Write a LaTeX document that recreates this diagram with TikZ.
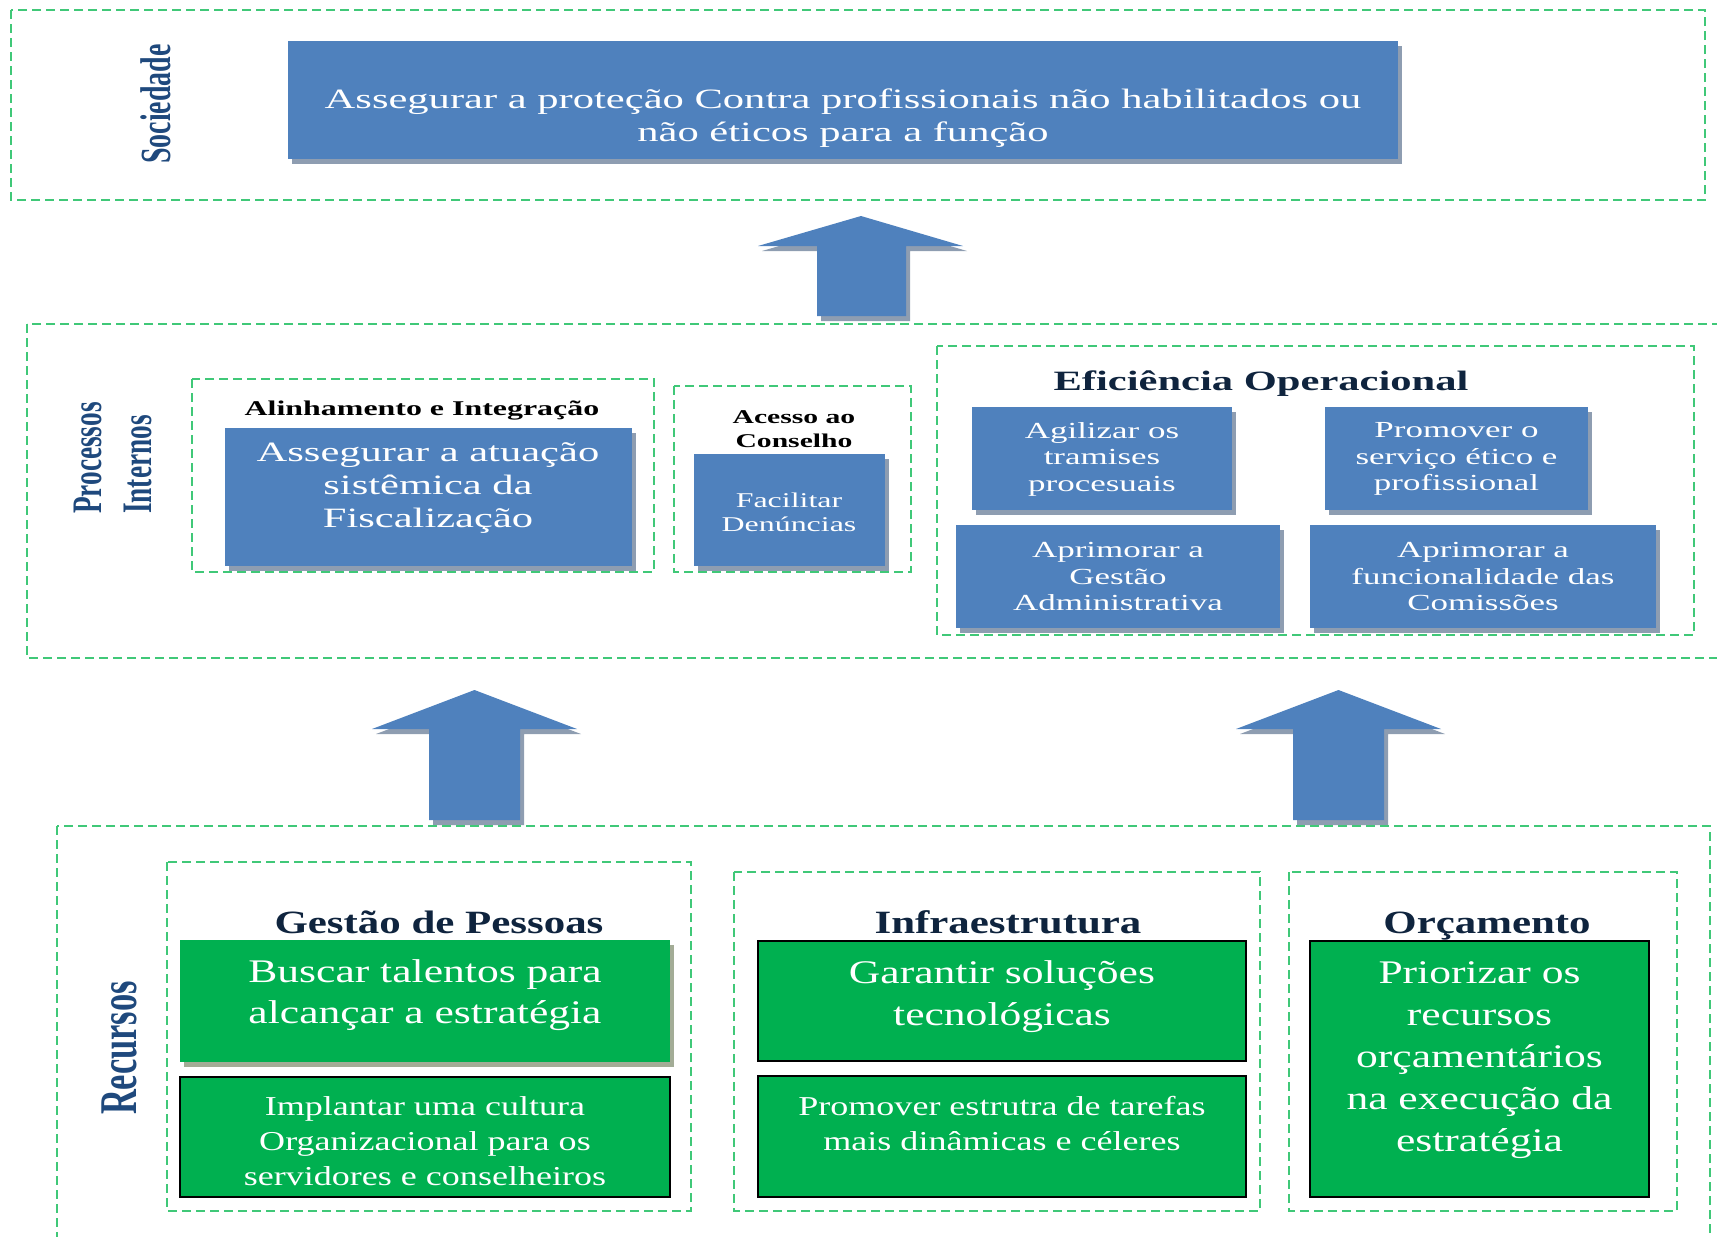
\documentclass[tikz,border=0pt]{standalone}
\usepackage{fontspec}
\usepackage{graphicx}
\setmainfont{Liberation Serif}
\newfontfamily\bluefont[FakeStretch=1.52]{Liberation Serif}
\newfontfamily\greenfont[FakeStretch=1.32]{Liberation Serif}
\newfontfamily\sidefont[FakeStretch=0.65]{Liberation Serif}
\usetikzlibrary{shadows}
\definecolor{boxblue}{HTML}{4F81BD}
\definecolor{boxgreen}{HTML}{00B050}
\definecolor{dashgreen}{HTML}{40C878}
\definecolor{shadowblue}{HTML}{8E9DB1}
\definecolor{shadowgreen}{HTML}{A3AC96}
\definecolor{sidenavy}{HTML}{1F497D}
\definecolor{titlenavy}{HTML}{0F243E}
\begin{document}
\begin{tikzpicture}[x=1pt,y=-1pt,
  grp/.style={draw=dashgreen,line width=1.5pt,dash pattern=on 9pt off 5pt},
  bbox/.style={fill=boxblue,inner sep=0pt,
    general shadow={fill=shadowblue,shadow xshift=4pt,shadow yshift=-5pt}},
  gbox/.style={fill=boxgreen,draw=black,line width=1.6pt,inner sep=0pt},
  gboxs/.style={fill=boxgreen,inner sep=0pt,
    general shadow={fill=shadowgreen,shadow xshift=4pt,shadow yshift=-5pt}},
  btxt/.style={text=white,align=center,inner sep=0pt},
  ttl/.style={align=center,inner sep=0pt},
  side/.style={rotate=90,text=sidenavy,inner sep=0pt,font=\sidefont\bfseries},
  barrow/.style={fill=boxblue,
    general shadow={fill=shadowblue,shadow xshift=4pt,shadow yshift=-5pt}}
]
\useasboundingbox (0,0) rectangle (1717,1237);

% ---------- Sociedade ----------
\draw[grp] (11,10) rectangle (1705,200);
\node[side,font=\sidefont\bfseries\fontsize{43}{50}\selectfont] (lsoc) at (156,104) {Sociedade};
\node[bbox,minimum width=1110pt,minimum height=118pt] (soc) at (843,100) {};
\node[btxt,font=\bluefont\fontsize{28}{33}\selectfont] (soct) at (843,118)
  {Assegurar a proteção Contra profissionais não habilitados ou\\não éticos para a função};

% ---------- arrow top ----------
\coordinate (a1) at (861,216);
\path[barrow] (a1) -- (963,246) -- (906,246) -- (906,316) -- (817,316) -- (817,246) -- (758,246) -- cycle;

% ---------- Processos Internos ----------
\draw[grp] (27,324) rectangle (1730,658);
\node[side,align=left,font=\sidefont\bfseries\fontsize{42}{50}\selectfont] (lproc) at (113,458) {Processos\\Internos};

\draw[grp] (192,379) rectangle (654,572);
\node[ttl,font=\bluefont\bfseries\fontsize{21}{24}\selectfont] (alin) at (422,410) {Alinhamento e Integração};
\node[bbox,minimum width=407pt,minimum height=138pt] (atua) at (428.5,497) {};
\node[btxt,font=\bluefont\fontsize{28}{33}\selectfont] (atuat) at (428,488)
  {Assegurar a atuação\\sistêmica da\\Fiscalização};

\draw[grp] (674,386) rectangle (911,572);
\node[ttl,font=\bluefont\bfseries\fontsize{19.5}{24}\selectfont] (aces) at (794,429) {Acesso ao\\Conselho};
\node[bbox,minimum width=191pt,minimum height=112pt] (faci) at (789.5,510) {};
\node[btxt,font=\bluefont\fontsize{21}{24}\selectfont] (facit) at (789,512) {Facilitar\\Denúncias};

\draw[grp] (937,346) rectangle (1694,635);
\node[ttl,text=titlenavy,font=\bluefont\bfseries\fontsize{28}{32}\selectfont] (efic) at (1261,384) {Eficiência Operacional};
\node[bbox,minimum width=260pt,minimum height=103pt] (agil) at (1102,458.5) {};
\node[btxt,font=\bluefont\fontsize{23}{26.5}\selectfont] (agilt) at (1102,459) {Agilizar os\\tramises\\procesuais};
\node[bbox,minimum width=263pt,minimum height=103pt] (prom) at (1456.5,458.5) {};
\node[btxt,font=\bluefont\fontsize{23}{26.5}\selectfont] (promt) at (1456.5,459) {Promover o\\serviço ético e\\profissional};
\node[bbox,minimum width=324pt,minimum height=103pt] (gest) at (1118,576.5) {};
\node[btxt,font=\bluefont\fontsize{23}{26.5}\selectfont] (gestt) at (1118,576.5) {Aprimorar a\\Gestão\\Administrativa};
\node[bbox,minimum width=346pt,minimum height=103pt] (func) at (1483,576.5) {};
\node[btxt,font=\bluefont\fontsize{23}{26.5}\selectfont] (funct) at (1483,576.5) {Aprimorar a\\funcionalidade das\\Comissões};

% ---------- arrows bottom ----------
\coordinate (a2) at (474.5,690);
\path[barrow] (a2) -- (577,729) -- (520,729) -- (520,820) -- (429,820) -- (429,729) -- (372,729) -- cycle;
\coordinate (a3) at (1338.5,690);
\path[barrow] (a3) -- (1441,729) -- (1384,729) -- (1384,820) -- (1293,820) -- (1293,729) -- (1236,729) -- cycle;

% ---------- Recursos ----------
\draw[grp] (57,826) rectangle (1710,1260);
\node[side,font=\sidefont\bfseries\fontsize{53}{60}\selectfont] (lrec) at (119,1048) {Recursos};

\draw[grp] (167,862) rectangle (691,1211);
\node[ttl,text=titlenavy,font=\greenfont\bfseries\fontsize{32.5}{38}\selectfont] (gpes) at (439,922) {Gestão de Pessoas};
\node[gboxs,minimum width=490pt,minimum height=122pt] (busc) at (425,1001) {};
\node[btxt,font=\greenfont\fontsize{33}{41}\selectfont] (busct) at (425,995) {Buscar talentos para\\alcançar a estratégia};
\node[gbox,minimum width=490pt,minimum height=120pt] (impl) at (425,1137) {};
\node[btxt,font=\greenfont\fontsize{27.3}{35}\selectfont] (implt) at (425,1141) {Implantar uma cultura\\Organizacional para os\\servidores e conselheiros};

\draw[grp] (734,872) rectangle (1260,1211);
\node[ttl,text=titlenavy,font=\greenfont\bfseries\fontsize{32.5}{38}\selectfont] (infr) at (1008,922) {Infraestrutura};
\node[gbox,minimum width=488pt,minimum height=120pt] (gara) at (1002,1001) {};
\node[btxt,font=\greenfont\fontsize{33}{42}\selectfont] (garat) at (1002,997) {Garantir soluções\\tecnológicas};
\node[gbox,minimum width=488pt,minimum height=121pt] (estr) at (1002,1136.5) {};
\node[btxt,font=\greenfont\fontsize{27.3}{35}\selectfont] (estrt) at (1002,1124) {Promover estrutra de tarefas\\mais dinâmicas e céleres};

\draw[grp] (1289,872) rectangle (1677,1211);
\node[ttl,text=titlenavy,font=\greenfont\bfseries\fontsize{32.5}{38}\selectfont] (orca) at (1487,926) {Orçamento};
\node[gbox,minimum width=339pt,minimum height=256pt] (prio) at (1479.5,1069) {};
\node[btxt,font=\greenfont\fontsize{33}{42}\selectfont] (priot) at (1479.5,1060) {Priorizar os\\recursos\\orçamentários\\na execução da\\estratégia};
\end{tikzpicture}
\end{document}
